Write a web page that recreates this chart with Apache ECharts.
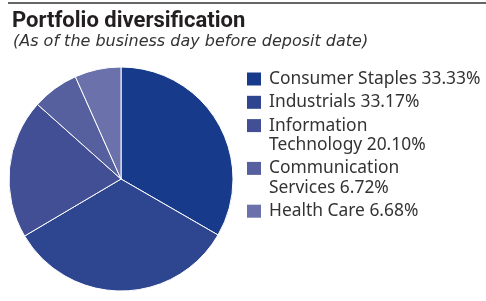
<!DOCTYPE html>
<html>
<head>
<meta charset="utf-8">
<script src="https://cdn.jsdelivr.net/npm/echarts@6/dist/echarts.min.js"></script>
<style>
html, body { margin: 0; padding: 0; background: #fff; }
#chart { width: 486px; height: 301px; }
</style>
</head>
<body>
<div id="chart"></div>
<script>
// sectors, clockwise from 12 o'clock
var sectors = ['Consumer Staples', 'Industrials', 'Information Technology', 'Communication Services', 'Health Care']
var weights = [33.33, 33.17, 20.10, 6.72, 6.68]
// how the legend text wraps
var legendLabels = ['Consumer Staples 33.33%', 'Industrials 33.17%', 'Information\nTechnology 20.10%', 'Communication\nServices 6.72%', 'Health Care 6.68%']
var colors = ['#173a8a', '#2e458f', '#434f95', '#56609f', '#6a71ab']

var textFont = '"Noto Sans", Roboto, sans-serif'

// legend drawn as graphic: square + text per row
var legendItems = []
var y = 79
for (var i = 0; i < sectors.length; i++) {
    legendItems.push({
        type: 'rect',
        shape: { x: 247, y: y - 6.5, width: 14, height: 13 },
        style: { fill: colors[i] }
    })
    legendItems.push({
        type: 'text',
        x: 269,
        y: y - 9.75,
        style: {
            text: legendLabels[i],
            font: '17.4px ' + textFont,
            lineHeight: 19.5,
            fill: '#333',
            verticalAlign: 'top'
        }
    })
    var lines = legendLabels[i].split('\n').length
    y += 23.3 + (lines - 1) * 19.5
}

var option = {
    animation: false,
    title: [{
        text: 'Portfolio diversification',
        left: 7,
        top: 5,
        textStyle: { fontFamily: 'Roboto, sans-serif', fontWeight: 'bold', fontSize: 22, color: '#231f20' }
    }, {
        text: '(As of the business day before deposit date)',
        left: 8,
        top: 29,
        textStyle: { fontFamily: '"DejaVu Sans", sans-serif', fontStyle: 'italic', fontWeight: 'normal', fontSize: 16, color: '#333' }
    }],
    graphic: [{
        type: 'line',
        shape: { x1: 8, y1: 3, x2: 486, y2: 3 },
        style: { stroke: '#333', lineWidth: 1.5 }
    }].concat(legendItems),
    series: [{
        type: 'pie',
        center: [121, 179],
        radius: 112,
        startAngle: 90,
        clockwise: true,
        label: { show: false },
        labelLine: { show: false },
        itemStyle: { borderColor: '#fff', borderWidth: 1 },
        data: sectors.map(function (name, i) {
            return { name: name, value: weights[i], itemStyle: { color: colors[i] } }
        })
    }]
}

var myChart = echarts.init(document.getElementById('chart'))
myChart.setOption(option)
</script>
</body>
</html>
